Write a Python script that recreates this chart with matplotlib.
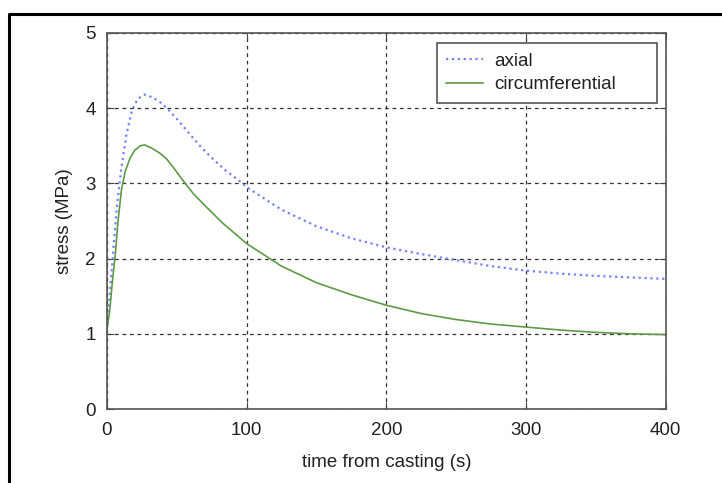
import matplotlib
matplotlib.use('Agg')
import matplotlib.pyplot as plt
from matplotlib.lines import Line2D

# axial stress
t_axial = [0, 2, 5, 7, 10, 14, 18, 22, 27, 33, 38, 43, 50, 55, 60, 67, 75, 85,
           95, 100, 125, 150, 175, 200, 225, 250, 275, 300, 325, 350, 375, 400]
axial = [1.05, 1.5, 2.2, 2.65, 3.15, 3.65, 3.97, 4.12, 4.18, 4.14, 4.08, 4.0,
         3.86, 3.75, 3.64, 3.49, 3.34, 3.17, 3.03, 2.95, 2.65, 2.43, 2.27,
         2.15, 2.06, 1.98, 1.9, 1.84, 1.8, 1.77, 1.75, 1.73]

# circumferential stress
t_circ = [0, 2, 4, 6, 8, 10.5, 13, 16.5, 20, 24, 27, 32, 38, 43, 48, 54, 62,
          71, 83, 95, 100, 125, 150, 175, 200, 225, 250, 275, 300, 325, 350,
          375, 400]
circ = [1.05, 1.3, 1.7, 2.05, 2.5, 2.92, 3.15, 3.33, 3.44, 3.5, 3.51, 3.47,
        3.4, 3.32, 3.2, 3.05, 2.86, 2.69, 2.47, 2.28, 2.2, 1.9, 1.68, 1.52,
        1.38, 1.27, 1.19, 1.13, 1.09, 1.05, 1.02, 1.0, 0.99]

plt.rcParams['font.family'] = ['Liberation Sans', 'DejaVu Sans']
fs = 13.5

fig = plt.figure(figsize=(7.22, 4.83), dpi=100)
ax = fig.add_axes([0.148, 0.153, 0.774, 0.779])

ax.plot(t_axial, axial, ':', color='#7480ff', lw=1.6, label='axial')
ax.plot(t_circ, circ, '-', color='#5e9a45', lw=1.2, label='circumferential')

ax.set_xlim(0, 400)
ax.set_ylim(0, 5)
ax.set_xticks([0, 100, 200, 300, 400])
ax.set_yticks([0, 1, 2, 3, 4, 5])
ax.tick_params(direction='in', top=True, right=True, length=5, color='#444444',
               labelsize=fs, labelcolor='#222222')
ax.tick_params(axis='x', pad=9)
ax.tick_params(axis='y', pad=8)
for s in ax.spines.values():
    s.set_color('#555555')
    s.set_linewidth(1.2)
ax.grid(True, color='#333333', linestyle=(0, (3, 3)), lw=0.9)

ax.set_xlabel('time from casting (s)', fontsize=fs, color='#222222', labelpad=11)
ax.set_ylabel('stress (MPa)', fontsize=fs, color='#222222', labelpad=9)

# legend box stretched to the width it has in the reference
leg = ax.legend(loc='upper left', bbox_to_anchor=(0.59, 0.0, 0.394, 0.973),
                mode='expand', borderaxespad=0, fontsize=fs, fancybox=False,
                framealpha=1, borderpad=0.5, handlelength=2.0,
                handletextpad=0.55, labelspacing=0.35)
leg.get_frame().set_edgecolor('#555555')
leg.get_frame().set_linewidth(1.2)
for txt in leg.get_texts():
    txt.set_color('#222222')

# black frame around the figure (right and bottom run off the picture)
x0 = 8.5 / 722
y0 = 1 - 13.5 / 483
fig.add_artist(Line2D([x0, x0, 1.0], [0.0, y0, y0], color='black', lw=2.2,
                      transform=fig.transFigure))

fig.savefig('out.png', dpi=100)
